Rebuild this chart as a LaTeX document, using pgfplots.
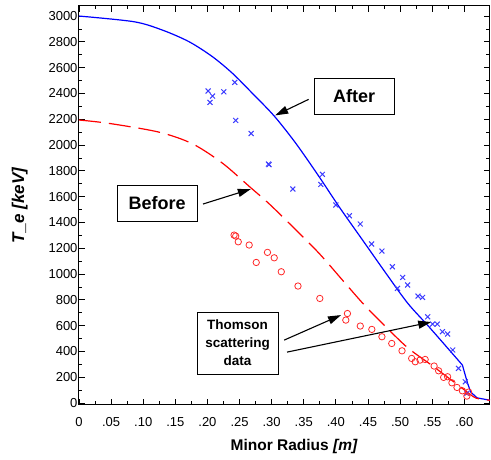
\documentclass[border=0pt]{standalone}
\usepackage{pgfplots}
\pgfplotsset{compat=1.18}
\usepackage{fontspec}
\setmainfont{Liberation Sans}
\usetikzlibrary{arrows.meta}
\definecolor{teBlue}{RGB}{0,0,255}
\definecolor{markBlue}{RGB}{60,60,255}
\definecolor{teRed}{RGB}{255,0,0}
\definecolor{markRed}{RGB}{255,40,40}

\begin{document}
\begin{tikzpicture}
\useasboundingbox (-79pt,-55pt) rectangle (412pt,405pt);
\begin{axis}[
  at={(0pt,0pt)}, anchor=south west,
  scale only axis,
  width=411pt, height=399pt,
  xmin=0, xmax=0.64,
  ymin=-15, ymax=3078,
  xtick={0,0.05,0.10,0.15,0.20,0.25,0.30,0.35,0.40,0.45,0.50,0.55,0.60},
  xticklabels={0,.05,.10,.15,.20,.25,.30,.35,.40,.45,.50,.55,.60},
  minor x tick num=1,
  ytick={0,200,...,3000},
  minor y tick num=1,
  tick align=inside,
  major tick length=6pt,
  minor tick length=3.5pt,
  tick style={black, line width=0.8pt},
  axis line style={black, line width=1pt},
  /pgf/number format/assume math mode=true,
  /pgf/number format/1000 sep={},
  tick label style={font=\fontsize{13}{15}\selectfont},
  xticklabel style={yshift=-9pt},
  yticklabel style={xshift=2pt},
  xlabel={\bfseries Minor Radius \itshape [m]},
  xlabel style={font=\fontsize{15.5}{18}\selectfont, at={(axis description cs:0.523,-0.105)}, anchor=center},
  ylabel={\bfseries\itshape T\_e [keV]},
  ylabel style={font=\fontsize{17}{20}\selectfont, at={(axis description cs:-0.144,0.5)}, anchor=center},
  clip=false,
]
% after (solid)
\addplot[teBlue, line width=1.2pt, smooth, tension=0.5] coordinates {
  (0,3000) (0.0857,2956) (0.130,2891) (0.1714,2801) (0.2078,2685)
  (0.239,2556) (0.270,2401) (0.304,2225) (0.3377,2013) (0.374,1754)
  (0.405,1522) (0.4415,1264) (0.478,1006) (0.5117,775) (0.545,591)
  (0.597,295)
};
\addplot[teBlue, line width=1.2pt] coordinates {
  (0.597,295) (0.605,155) (0.61,85) (0.62,40) (0.64,22)
};
% before (dashed)
\addplot[teRed, line width=1.2pt, dash pattern=on 22pt off 8pt, smooth, tension=0.5] coordinates {
  (0,2194) (0.0468,2168) (0.1247,2100) (0.1766,2010) (0.2233,1860)
  (0.265,1680) (0.296,1545) (0.3325,1368) (0.374,1160) (0.4103,953)
  (0.444,762) (0.478,590) (0.512,428) (0.55,290) (0.597,114)
  (0.618,39) (0.64,22)
};
% Thomson scattering, after
\addplot[only marks, mark=x, mark size=3.5pt, markBlue, line width=1pt] coordinates {
  (0.201,2419) (0.208,2380) (0.204,2331) (0.2255,2413) (0.2426,2486)
  (0.244,2191) (0.268,2090) (0.295,1853) (0.296,1848) (0.333,1659)
  (0.379,1773) (0.3766,1695) (0.400,1535) (0.421,1452) (0.438,1388)
  (0.4556,1233) (0.4717,1178) (0.488,1057) (0.504,974) (0.5117,915)
  (0.496,889) (0.528,829) (0.535,819) (0.543,669) (0.5506,612)
  (0.558,612) (0.566,553) (0.574,535) (0.582,411) (0.591,269)
  (0.6015,165) (0.604,75)
};
% Thomson scattering, before
\addplot[only marks, mark=o, mark size=3.2pt, markRed, line width=0.8pt] coordinates {
  (0.2415,1302) (0.244,1295) (0.248,1250) (0.265,1225) (0.2935,1168)
  (0.304,1126) (0.276,1090) (0.315,1018) (0.341,907) (0.375,811)
  (0.418,694) (0.4155,643) (0.438,597) (0.456,571) (0.4717,514)
  (0.487,462) (0.503,405) (0.518,346) (0.5236,320) (0.531,333)
  (0.539,338) (0.553,287) (0.560,250) (0.5678,199) (0.574,204)
  (0.5807,157) (0.5886,121) (0.597,95) (0.604,54) (0.6067,85)
};
% annotations
\node[draw, line width=0.9pt, fill=white, minimum width=80pt, minimum height=36pt, inner sep=0pt,
  font=\fontsize{18}{20}\selectfont\bfseries] at (axis cs:0.4286,2380) {After};
\draw[line width=1.1pt, -{Triangle[length=13pt,width=8pt]}] (axis cs:0.3575,2354) -- (axis cs:0.3055,2230);
\node[draw, line width=0.9pt, fill=white, minimum width=80pt, minimum height=36pt, inner sep=0pt,
  font=\fontsize{18}{20}\selectfont\bfseries] at (axis cs:0.1216,1550) {Before};
\draw[line width=1.1pt, -{Triangle[length=13pt,width=8pt]}] (axis cs:0.1932,1543) -- (axis cs:0.2676,1659);
\node[draw, line width=0.9pt, fill=white, minimum width=81pt, minimum height=62pt, inner sep=0pt,
  align=center, font=\fontsize{13.5}{18}\selectfont\bfseries] at (axis cs:0.247,465) {Thomson\\scattering\\data};
\draw[line width=1.1pt, -{Triangle[length=13pt,width=8pt]}] (axis cs:0.3195,488) -- (axis cs:0.408,682);
\draw[line width=1.1pt, -{Triangle[length=13pt,width=8pt]}] (axis cs:0.324,395) -- (axis cs:0.5485,628);
\end{axis}
\end{tikzpicture}
\end{document}
